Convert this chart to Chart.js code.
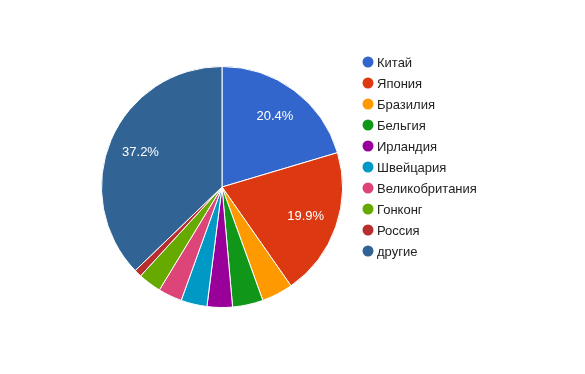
<!DOCTYPE html>
<html>
<head>
<meta charset="utf-8">
<script src="https://cdn.jsdelivr.net/npm/chart.js@4/dist/chart.umd.min.js"></script>
<style>
  html, body { margin: 0; padding: 0; background: #fff; }
  #wrap { width: 585px; height: 374px; position: relative; }
</style>
</head>
<body>
<div id="wrap"><canvas id="pie"></canvas></div>
<script>
// Shares by country (percent)
const countries = ['Китай', 'Япония', 'Бразилия', 'Бельгия', 'Ирландия', 'Швейцария', 'Великобритания', 'Гонконг', 'Россия', 'другие'];
const shares = [20.4, 19.9, 4.2, 4.1, 3.4, 3.5, 3.2, 3.1, 1.0, 37.2];
const sliceColors = ['#3366cc', '#dc3912', '#ff9900', '#109618', '#990099', '#0099c6', '#dd4477', '#66aa00', '#b82e2e', '#316395'];

const FONT = 'Arial, "Liberation Sans", sans-serif';

// percent text inside the big slices
const sliceLabels = {
    id: 'sliceLabels',
    afterDatasetsDraw(chart) {
        const ctx = chart.ctx;
        const meta = chart.getDatasetMeta(0);
        const total = shares.reduce((a, b) => a + b, 0);
        ctx.save();
        ctx.font = '13px ' + FONT;
        ctx.fillStyle = '#ffffff';
        ctx.textAlign = 'center';
        ctx.textBaseline = 'middle';
        meta.data.forEach((arc, i) => {
            const pct = shares[i] / total * 100;
            if (pct < 10) return;
            const p = arc.getProps(['x', 'y', 'startAngle', 'endAngle', 'outerRadius'], true);
            const mid = (p.startAngle + p.endAngle) / 2;
            const r = p.outerRadius * 0.735;
            ctx.fillText(pct.toFixed(1) + '%', p.x + Math.cos(mid) * r, p.y + Math.sin(mid) * r);
        });
        ctx.restore();
    }
};

// legend on the right, drawn by hand to place it like the original
const sideLegend = {
    id: 'sideLegend',
    afterDraw(chart) {
        const ctx = chart.ctx;
        ctx.save();
        ctx.font = '13px ' + FONT;
        ctx.textAlign = 'left';
        ctx.textBaseline = 'middle';
        countries.forEach((name, i) => {
            const y = 62 + i * 21;
            ctx.beginPath();
            ctx.arc(368, y, 5.5, 0, Math.PI * 2);
            ctx.fillStyle = sliceColors[i];
            ctx.fill();
            ctx.fillStyle = '#222222';
            ctx.fillText(name, 377, y + 1);
        });
        ctx.restore();
    }
};

new Chart(document.getElementById('pie'), {
    type: 'pie',
    data: {
        labels: countries,
        datasets: [{
            data: shares,
            backgroundColor: sliceColors,
            borderColor: '#ffffff',
            borderWidth: 1
        }]
    },
    options: {
        responsive: true,
        maintainAspectRatio: false,
        animation: false,
        events: [],
        layout: {
            padding: { left: 101, right: 242, top: 66, bottom: 66 }
        },
        plugins: {
            legend: { display: false },
            tooltip: { enabled: false }
        }
    },
    plugins: [sliceLabels, sideLegend]
});
</script>
</body>
</html>
